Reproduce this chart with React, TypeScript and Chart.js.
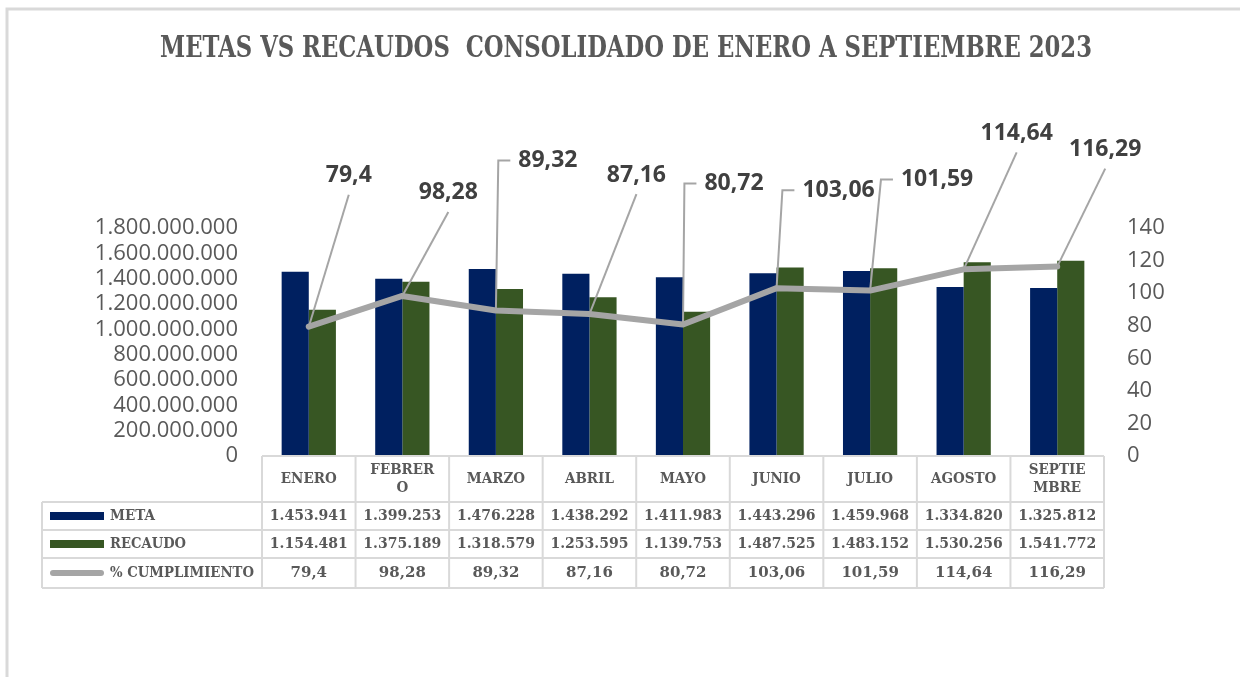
import React, { useEffect, useRef } from 'react';
import { Chart, registerables } from 'chart.js';

Chart.register(...registerables);

// ---------------- DATA ----------------
const categories = ['ENERO', 'FEBRERO', 'MARZO', 'ABRIL', 'MAYO', 'JUNIO', 'JULIO', 'AGOSTO', 'SEPTIEMBRE'];
const headerLines = [['ENERO'], ['FEBRER', 'O'], ['MARZO'], ['ABRIL'], ['MAYO'], ['JUNIO'], ['JULIO'], ['AGOSTO'], ['SEPTIE', 'MBRE']];
// values in thousands (as shown in the data table)
const metaMiles = [1453941, 1399253, 1476228, 1438292, 1411983, 1443296, 1459968, 1334820, 1325812];
const recaudoMiles = [1154481, 1375189, 1318579, 1253595, 1139753, 1487525, 1483152, 1530256, 1541772];
const cumplimiento = [79.4, 98.28, 89.32, 87.16, 80.72, 103.06, 101.59, 114.64, 116.29];
const seriesNames = ['META', 'RECAUDO', '% CUMPLIMIENTO'];
const title = 'METAS VS RECAUDOS  CONSOLIDADO DE ENERO A SEPTIEMBRE 2023';
const leftAxis = { min: 0, max: 1800000000, step: 200000000 };
const rightAxis = { min: 0, max: 140, step: 20 };

// ---------------- STYLE ----------------
const W = 1240;
const H = 677;
const NAVY = '#002060';
const GREEN = '#375623';
const LINE_GRAY = '#a5a5a5';
const TEXT = '#595959';
const LABEL_TEXT = '#404040';
const GRID = '#d9d9d9';
const SERIF = '"DejaVu Serif", "Liberation Serif", serif';
const SANS = '"Open Sans", "Noto Sans", "Liberation Sans", sans-serif';

// data-label placement (offset of label centre from the point) and leader style
const labelLayout = [
  { dx: 40, dy: -151, elbow: false },
  { dx: 46, dy: -103, elbow: false },
  { dx: 52, dy: -150, elbow: true },
  { dx: 47, dy: -139, elbow: false },
  { dx: 51, dy: -141, elbow: true },
  { dx: 62, dy: -98, elbow: true },
  { dx: 67, dy: -111, elbow: true },
  { dx: 53, dy: -136, elbow: false },
  { dx: 48, dy: -117, elbow: false },
];
const legendTextWidths = [45, 76, 144];

const fmtDots = (n: number) => Math.round(n).toString().replace(/\B(?=(\d{3})+(?!\d))/g, '.');
const fmtComma = (n: number) => String(n).replace('.', ',');

const decorPlugin = {
  id: 'decor',
  beforeDraw(chart: any) {
    const ctx = chart.ctx;
    ctx.save();
    ctx.fillStyle = '#ffffff';
    ctx.fillRect(0, 0, W, H);
    // frame
    ctx.strokeStyle = GRID;
    ctx.lineWidth = 3;
    ctx.beginPath();
    ctx.moveTo(7, H);
    ctx.lineTo(7, 9);
    ctx.lineTo(W, 9);
    ctx.stroke();
    // title
    ctx.font = `bold 29px ${SERIF}`;
    ctx.fillStyle = TEXT;
    ctx.textAlign = 'center';
    ctx.textBaseline = 'middle';
    ctx.fillText(title, 626, 49, 932);
    ctx.restore();
  },
  afterDatasetsDraw(chart: any) {
    const ctx = chart.ctx;
    const meta = chart.getDatasetMeta(2);
    ctx.save();
    ctx.font = `bold 23px ${SANS}`;
    meta.data.forEach((pt: any, i: number) => {
      const L = labelLayout[i];
      const px = pt.x;
      const py = pt.y;
      const cx = px + L.dx;
      const cy = py + L.dy;
      const txt = fmtComma(cumplimiento[i]);
      const tw = ctx.measureText(txt).width;
      ctx.strokeStyle = LINE_GRAY;
      ctx.lineWidth = 2;
      ctx.beginPath();
      ctx.moveTo(px, py);
      if (L.elbow) {
        const left = cx - tw / 2;
        ctx.lineTo(left - 20, cy);
        ctx.lineTo(left - 8, cy);
      } else {
        ctx.lineTo(cx, cy + 19);
      }
      ctx.stroke();
      ctx.fillStyle = LABEL_TEXT;
      ctx.textAlign = 'center';
      ctx.textBaseline = 'middle';
      ctx.fillText(txt, cx, cy);
    });
    ctx.restore();
  },
  afterDraw(chart: any) {
    const ctx = chart.ctx;
    const area = chart.chartArea;
    const n = categories.length;
    const colW = (area.right - area.left) / n;
    const tableLeft = 42;
    const headTop = area.bottom;
    const rows = [headTop + 46, headTop + 74, headTop + 102, headTop + 132];
    ctx.save();
    ctx.strokeStyle = GRID;
    ctx.lineWidth = 2;
    ctx.beginPath();
    ctx.moveTo(area.left, headTop);
    ctx.lineTo(area.right, headTop);
    rows.forEach((y) => {
      ctx.moveTo(tableLeft, y);
      ctx.lineTo(area.right, y);
    });
    for (let i = 0; i <= n; i++) {
      const x = area.left + i * colW;
      ctx.moveTo(x, headTop);
      ctx.lineTo(x, rows[3]);
    }
    ctx.moveTo(tableLeft, rows[0]);
    ctx.lineTo(tableLeft, rows[3]);
    ctx.stroke();

    ctx.fillStyle = TEXT;
    ctx.font = `bold 15px ${SERIF}`;
    ctx.textAlign = 'center';
    ctx.textBaseline = 'middle';
    const squeeze = (t: string, x: number, y: number) => {
      const w = ctx.measureText(t).width;
      ctx.fillText(t, x, y, w * 0.9);
    };
    const headMid = (headTop + rows[0]) / 2;
    const rowMids = [(rows[0] + rows[1]) / 2, (rows[1] + rows[2]) / 2, (rows[2] + rows[3]) / 2];
    for (let i = 0; i < n; i++) {
      const cx = chart.scales.x.getPixelForValue(i);
      const lines = headerLines[i];
      if (lines.length === 1) {
        squeeze(lines[0], cx, headMid);
      } else {
        squeeze(lines[0], cx, headMid - 9);
        squeeze(lines[1], cx, headMid + 9);
      }
      ctx.fillText(fmtDots(metaMiles[i]), cx, rowMids[0], 78);
      ctx.fillText(fmtDots(recaudoMiles[i]), cx, rowMids[1], 78);
      ctx.fillText(fmtComma(cumplimiento[i]), cx, rowMids[2], 78);
    }
    // legend keys
    ctx.textAlign = 'left';
    seriesNames.forEach((name, r) => {
      const y = rowMids[r];
      if (r < 2) {
        ctx.fillStyle = r === 0 ? NAVY : GREEN;
        ctx.fillRect(50, y - 4, 54, 8);
      } else {
        ctx.strokeStyle = LINE_GRAY;
        ctx.lineWidth = 6;
        ctx.lineCap = 'round';
        ctx.beginPath();
        ctx.moveTo(53, y);
        ctx.lineTo(101, y);
        ctx.stroke();
      }
      ctx.fillStyle = TEXT;
      ctx.fillText(name, 110, y, legendTextWidths[r]);
    });
    ctx.restore();
  },
};

export default function App() {
  const ref = useRef<HTMLCanvasElement | null>(null);
  useEffect(() => {
    if (!ref.current) return;
    const chart = new Chart(ref.current, {
      type: 'bar',
      data: {
        labels: categories,
        datasets: [
          {
            type: 'bar',
            label: seriesNames[0],
            data: metaMiles.map((v) => v * 1000),
            backgroundColor: NAVY,
            yAxisID: 'y',
            categoryPercentage: 0.58,
            barPercentage: 1,
            order: 1,
          },
          {
            type: 'bar',
            label: seriesNames[1],
            data: recaudoMiles.map((v) => v * 1000),
            backgroundColor: GREEN,
            yAxisID: 'y',
            categoryPercentage: 0.58,
            barPercentage: 1,
            order: 1,
          },
          {
            type: 'line',
            label: seriesNames[2],
            data: cumplimiento,
            borderColor: LINE_GRAY,
            borderWidth: 6,
            pointRadius: 0,
            borderCapStyle: 'round',
            borderJoinStyle: 'round',
            yAxisID: 'y1',
            order: 0,
          } as any,
        ],
      },
      plugins: [decorPlugin],
      options: {
        responsive: false,
        animation: false,
        devicePixelRatio: 1,
        layout: { padding: { top: 228, bottom: 221, left: 0, right: 0 } },
        plugins: { legend: { display: false }, tooltip: { enabled: false }, title: { display: false } },
        scales: {
          x: { display: false, offset: true, grid: { display: false } },
          y: {
            position: 'left',
            min: leftAxis.min,
            max: leftAxis.max,
            grid: { display: false, drawTicks: false },
            border: { display: false },
            ticks: {
              stepSize: leftAxis.step,
              autoSkip: false,
              padding: 24,
              color: TEXT,
              font: { family: SANS, size: 22 },
              callback: (v: any) => fmtDots(Number(v)),
            },
            afterFit: (s: any) => {
              s.width = 262;
            },
          },
          y1: {
            position: 'right',
            min: rightAxis.min,
            max: rightAxis.max,
            grid: { display: false, drawTicks: false },
            border: { display: false },
            ticks: {
              stepSize: rightAxis.step,
              autoSkip: false,
              padding: 23,
              color: TEXT,
              font: { family: SANS, size: 22 },
            },
            afterFit: (s: any) => {
              s.width = 136;
            },
          },
        },
      },
    });
    return () => chart.destroy();
  }, []);
  return (
    <canvas
      ref={ref}
      width={W}
      height={H}
      style={{ position: 'absolute', left: 0, top: 0, width: W, height: H, display: 'block' }}
    />
  );
}
